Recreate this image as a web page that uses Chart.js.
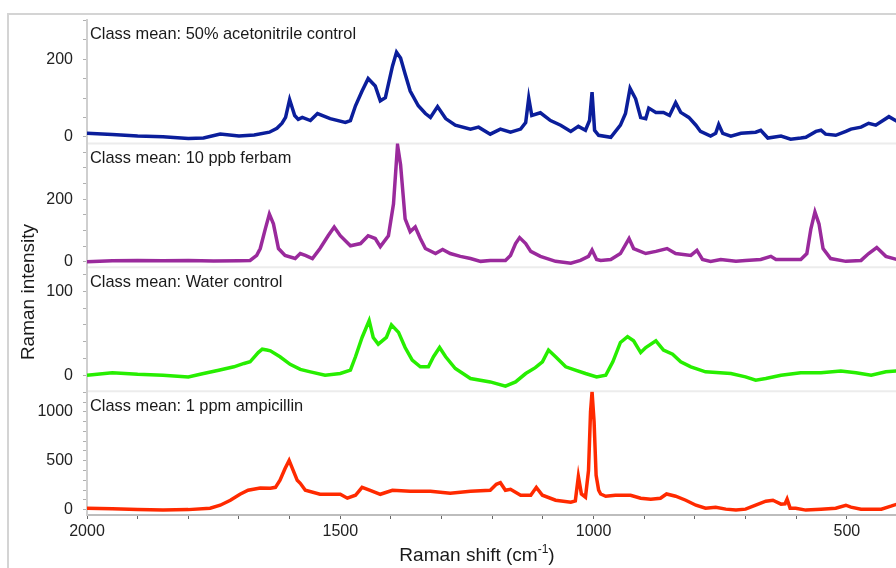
<!DOCTYPE html>
<html>
<head>
<meta charset="utf-8">
<script src="https://cdn.jsdelivr.net/npm/chart.js@4.4.1/dist/chart.umd.min.js"></script>
<style>
html, body { margin: 0; padding: 0; background: #fff; overflow: hidden; }
</style>
</head>
<body>
<canvas id="spectra" width="896" height="568"></canvas>
<script>
// Spectra (Raman shift in cm-1, intensity in counts)
const acnShift = [2000, 1950, 1900, 1850, 1800, 1770, 1737, 1700, 1670, 1640, 1625, 1615, 1608, 1600, 1590, 1583, 1575, 1559, 1545, 1520, 1490, 1480, 1470, 1457, 1445, 1431, 1421, 1411, 1397, 1389, 1381, 1372, 1362, 1346, 1332, 1322, 1308, 1292, 1273, 1243, 1227, 1204, 1184, 1164, 1144, 1134, 1128, 1122, 1105, 1085, 1065, 1045, 1030, 1016, 1008, 1003, 998, 990, 966, 947, 937, 928, 917, 907, 897, 891, 877, 862, 850, 838, 828, 812, 798, 789, 769, 759, 753, 745, 729, 709, 680, 670, 656, 630, 611, 591, 581, 561, 551, 542, 522, 502, 492, 472, 457, 443, 417, 401];
const acnIntensity = [9, 6, 2, 0, -4, -3, 7, 2, 5, 12, 22, 35, 50, 96, 55, 45, 50, 42, 60, 47, 37, 42, 80, 118, 150, 131, 93, 101, 182, 218, 203, 162, 118, 80, 60, 50, 78, 47, 30, 20, 25, 7, 20, 12, 20, 37, 100, 55, 62, 42, 30, 14, 27, 17, 42, 115, 17, 4, -1, 30, 60, 125, 98, 50, 47, 74, 63, 63, 55, 88, 63, 50, 30, 14, 2, 9, 32, 9, 2, 9, 12, 17, -3, 2, -6, -3, -1, 14, 17, 7, 4, 14, 20, 25, 35, 30, 52, 40];

const ferbamShift = [2000, 1950, 1900, 1850, 1800, 1750, 1700, 1678, 1665, 1658, 1648, 1640, 1632, 1622, 1609, 1589, 1579, 1569, 1555, 1540, 1524, 1512, 1500, 1480, 1460, 1445, 1431, 1421, 1405, 1395, 1387, 1381, 1372, 1362, 1352, 1342, 1332, 1312, 1298, 1283, 1263, 1243, 1223, 1204, 1174, 1164, 1154, 1146, 1134, 1124, 1105, 1075, 1045, 1026, 1010, 1003, 994, 986, 966, 947, 930, 921, 897, 877, 855, 838, 808, 796, 785, 769, 749, 719, 700, 670, 650, 640, 621, 591, 579, 571, 563, 555, 547, 532, 502, 472, 457, 441, 423, 401];
const ferbamIntensity = [0, 3, 4, 3, 4, 2, 3, 4, 20, 42, 105, 152, 121, 42, 20, 10, 26, 20, 10, 42, 83, 111, 83, 51, 58, 83, 74, 48, 83, 184, 373, 310, 137, 96, 111, 74, 42, 26, 39, 26, 17, 10, 1, 4, 4, 20, 58, 77, 58, 33, 17, 1, -5, 4, 17, 37, 7, 4, 7, 26, 74, 42, 26, 33, 42, 26, 20, 36, 7, 1, 7, 1, 4, 7, 17, 7, 7, 7, 26, 105, 159, 121, 42, 10, 1, 4, 26, 45, 17, 7];

const waterShift = [2000, 1950, 1900, 1850, 1800, 1770, 1740, 1710, 1690, 1678, 1662, 1654, 1645, 1638, 1619, 1599, 1579, 1559, 1530, 1500, 1480, 1470, 1457, 1443, 1435, 1425, 1409, 1399, 1385, 1372, 1358, 1342, 1326, 1316, 1304, 1292, 1273, 1243, 1204, 1174, 1154, 1134, 1115, 1101, 1089, 1075, 1055, 1036, 1016, 994, 976, 962, 947, 933, 921, 907, 897, 877, 862, 844, 828, 808, 779, 729, 700, 680, 660, 630, 591, 551, 512, 482, 452, 423, 401];
const waterIntensity = [0, 3, 1, 0, -2, 2, 6, 10, 14, 16, 27, 31, 30, 29, 22, 13, 7, 4, 0, 2, 6, 22, 45, 65, 45, 37, 45, 60, 51, 33, 18, 10, 10, 22, 33, 22, 8, -4, -8, -13, -8, 2, 9, 16, 30, 22, 10, 6, 2, -2, 0, 16, 39, 46, 41, 27, 33, 41, 30, 25, 16, 10, 4, 2, -2, -6, -4, 0, 3, 3, 5, 3, 0, 4, 5];

const ampShift = [2000, 1950, 1900, 1850, 1800, 1757, 1737, 1717, 1698, 1682, 1658, 1638, 1628, 1619, 1609, 1601, 1593, 1585, 1579, 1569, 1540, 1500, 1486, 1470, 1457, 1441, 1421, 1397, 1362, 1322, 1283, 1243, 1204, 1192, 1184, 1174, 1164, 1144, 1124, 1113, 1101, 1075, 1045, 1036, 1030, 1024, 1016, 1010, 1006, 1003, 999, 995, 990, 986, 976, 957, 927, 907, 887, 868, 856, 838, 818, 798, 779, 759, 739, 719, 700, 680, 660, 646, 630, 622, 618, 612, 601, 581, 551, 522, 502, 492, 472, 432, 413, 401];
const ampIntensity = [15, 8, 0, -5, 0, 15, 45, 96, 157, 198, 221, 218, 228, 300, 421, 503, 401, 300, 269, 198, 157, 157, 117, 147, 228, 198, 157, 198, 188, 188, 168, 188, 198, 259, 275, 198, 208, 147, 147, 228, 147, 96, 76, 90, 340, 160, 127, 400, 1000, 1205, 900, 350, 200, 160, 137, 147, 147, 117, 107, 117, 160, 137, 96, 45, 15, 25, 5, -5, 5, 45, 86, 96, 56, 60, 107, 15, 15, -5, 5, 15, 45, 25, 5, 5, 35, 56];

// Panel captions and labelled ticks
const panelLabels = ['Class mean: 50% acetonitrile control', 'Class mean: 10 ppb ferbam', 'Class mean: Water control', 'Class mean: 1 ppm ampicillin'];
const acnTicks = [0, 200];
const ferbamTicks = [0, 200];
const waterTicks = [0, 100];
const ampTicks = [0, 500, 1000];
const shiftTicks = [2000, 1500, 1000, 500];

const FONT = '"Liberation Sans", Arial, sans-serif';

function toPoints(xs, ys) {
    return xs.map((x, i) => ({ x: x, y: ys[i] }));
}

function yAxis(min, max, step, labelled) {
    return {
        type: 'linear',
        position: 'left',
        stack: 'panels',
        stackWeight: 1,
        min: min,
        max: max,
        afterFit: s => { s.width = 87; },
        border: { color: '#cfcfcf', width: 2 },
        grid: { drawOnChartArea: false, tickLength: 4, tickColor: '#b0b0b0' },
        ticks: {
            stepSize: step,
            includeBounds: false,
            autoSkip: false,
            padding: 10,
            color: '#222',
            font: { family: FONT, size: 16 },
            callback: v => labelled.includes(v) ? v : ''
        }
    };
}

const decorations = {
    id: 'decorations',
    beforeDraw(chart) {
        const ctx = chart.ctx;
        const area = chart.chartArea;
        ctx.save();
        // outer frame
        ctx.strokeStyle = '#d4d4d4';
        ctx.lineWidth = 2;
        ctx.beginPath();
        ctx.moveTo(8, chart.height);
        ctx.lineTo(8, 14);
        ctx.lineTo(chart.width, 14);
        ctx.stroke();
        // panel separators
        ctx.strokeStyle = '#ececec';
        ['yAcn', 'yFerbam', 'yWater'].forEach(id => {
            const s = chart.scales[id];
            ctx.beginPath();
            ctx.moveTo(area.left, s.bottom);
            ctx.lineTo(area.right, s.bottom);
            ctx.stroke();
        });
        ctx.restore();
    },
    afterDraw(chart) {
        const ctx = chart.ctx;
        ctx.save();
        ctx.fillStyle = '#1a1a1a';
        ctx.textBaseline = 'middle';
        ctx.textAlign = 'left';
        ctx.font = '16.4px ' + FONT;
        ['yAcn', 'yFerbam', 'yWater', 'yAmp'].forEach((id, i) => {
            ctx.fillText(panelLabels[i], 90, chart.scales[id].top + 15);
        });

        // y title
        ctx.save();
        ctx.translate(29, 292);
        ctx.rotate(-Math.PI / 2);
        ctx.textAlign = 'center';
        ctx.font = '19px ' + FONT;
        ctx.fillText('Raman intensity', 0, 0);
        ctx.restore();

        // x title with superscript
        const main = 'Raman shift (cm', sup = '-1', tail = ')';
        ctx.font = '19px ' + FONT;
        const wMain = ctx.measureText(main).width;
        const wTail = ctx.measureText(tail).width;
        ctx.font = '12px ' + FONT;
        const wSup = ctx.measureText(sup).width;
        let x = 477 - (wMain + wSup + wTail) / 2;
        const y = 556;
        ctx.font = '19px ' + FONT;
        ctx.fillText(main, x, y);
        x += wMain;
        ctx.font = '12px ' + FONT;
        ctx.fillText(sup, x, y - 6);
        x += wSup;
        ctx.font = '19px ' + FONT;
        ctx.fillText(tail, x, y);
        ctx.restore();
    }
};

function series(xs, ys, color, axis) {
    return {
        data: toPoints(xs, ys),
        yAxisID: axis,
        borderColor: color,
        borderWidth: 3.5,
        pointRadius: 0,
        tension: 0,
        fill: false
    };
}

new Chart(document.getElementById('spectra').getContext('2d'), {
    type: 'line',
    data: {
        datasets: [
            series(acnShift, acnIntensity, '#0b1e9b', 'yAcn'),
            series(ferbamShift, ferbamIntensity, '#9a2a9c', 'yFerbam'),
            series(waterShift, waterIntensity, '#27ee00', 'yWater'),
            series(ampShift, ampIntensity, '#ff2a00', 'yAmp')
        ]
    },
    options: {
        responsive: false,
        animation: false,
        layout: { padding: { top: 13, left: 0, right: 0, bottom: 0 } },
        plugins: {
            legend: { display: false },
            tooltip: { enabled: false }
        },
        scales: {
            x: {
                type: 'linear',
                reverse: true,
                min: 403,
                max: 2000,
                afterFit: s => { s.height = 53; },
                afterBuildTicks: s => {
                    const ticks = [];
                    for (let v = 500; v <= 2000; v += 100) ticks.push({ value: v });
                    s.ticks = ticks;
                },
                border: { color: '#bdbdbd', width: 2 },
                grid: { drawOnChartArea: false, tickLength: 4, tickColor: '#666' },
                ticks: {
                    autoSkip: false,
                    maxRotation: 0,
                    padding: 3,
                    color: '#222',
                    font: { family: FONT, size: 16 },
                    callback: v => shiftTicks.includes(v) ? v : ''
                }
            },
            yAmp: yAxis(-55, 1212, 100, ampTicks),
            yWater: yAxis(-19, 128.6, 20, waterTicks),
            yFerbam: yAxis(-18, 378, 50, ferbamTicks),
            yAcn: yAxis(-17, 302, 50, acnTicks)
        }
    },
    plugins: [decorations]
});
</script>
</body>
</html>
